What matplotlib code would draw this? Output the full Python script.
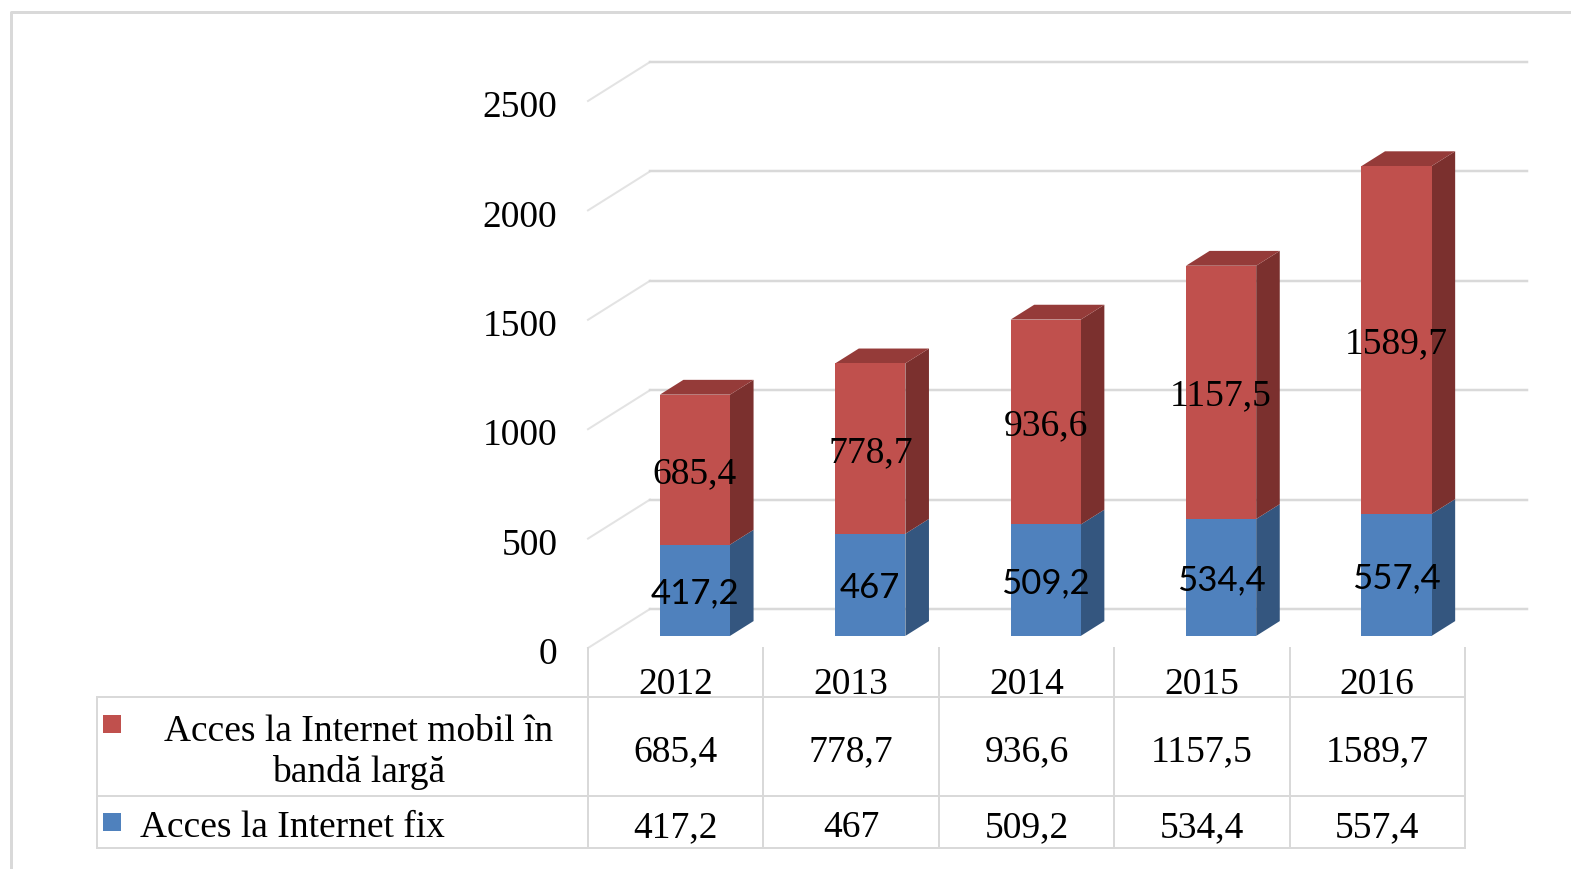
import matplotlib.pyplot as plt
from matplotlib.patches import Polygon
from matplotlib.lines import Line2D
from matplotlib.transforms import IdentityTransform, ScaledTranslation

years = ['2012', '2013', '2014', '2015', '2016']
fix_vals = [417.2, 467, 509.2, 534.4, 557.4]
mob_vals = [685.4, 778.7, 936.6, 1157.5, 1589.7]
fix_lbls = ['417,2', '467', '509,2', '534,4', '557,4']
mob_lbls = ['685,4', '778,7', '936,6', '1157,5', '1589,7']
mob_name = ['Acces la Internet mobil în', 'bandă largă']
fix_name = 'Acces la Internet fix'
y_ticks = [0, 500, 1000, 1500, 2000, 2500]

W, H = 1571, 869
SERIF = 'Liberation Serif'
FS = 27
GRID = '#d9d9d9'

# colours (front, side, top)
BLUE = ('#4f81bd', '#34567f', '#3f6896')
RED = ('#c0504d', '#7b302e', '#953b39')

fig = plt.figure(figsize=(W / 100, H / 100), dpi=100)
ax = fig.add_axes([588 / W, (H - 648) / H, 877 / W, 547 / H])
ax.set_xlim(-0.5, 4.5)
ax.set_ylim(0, 2500)
ax.patch.set_visible(False)
for s in ax.spines.values():
    s.set_visible(False)
ax.set_xticks([])
ax.set_yticks(y_ticks)
ax.set_yticklabels([str(v) for v in y_ticks], fontsize=FS, family=SERIF)
ax.tick_params(axis='y', length=0, pad=22)
# nudge tick labels a few px down
down = ScaledTranslation(0, -3 / 100, fig.dpi_scale_trans)
for t in ax.get_yticklabels():
    t.set_transform(t.get_transform() + down)

# depth of the 3d box, pixels
DX, DY = 62, 39
HW = 0.2          # half bar width (category units)
D0, D1 = 0.31, 0.69  # bar front / back depth
ID = IdentityTransform()


def pt(x, v, d=0.0):
    p = ax.transData.transform((x, v))
    return (p[0] + DX * d, p[1] + DY * d)


def img(x, y):
    # image pixel coords (y from top) -> display
    return (x, H - y)


def line(pts, color=GRID, lw=2.0, z=1):
    xs = [p[0] for p in pts]
    ys = [p[1] for p in pts]
    fig.add_artist(Line2D(xs, ys, color=color, lw=lw * 0.72, transform=ID, zorder=z))


def poly(pts, color, z=3):
    fig.add_artist(Polygon(pts, closed=True, facecolor=color, edgecolor='none',
                           transform=ID, zorder=z))


def text(x, y, s, size=FS, family=SERIF, ha='center'):
    # va=center sits a bit high for these fonts
    fig.text(x, y - 4, s, fontsize=size, family=family, ha=ha, va='center',
             transform=ID, zorder=10)


# outer frame
line([img(11, H), img(11, 12), img(W, 12)], lw=3)

# back wall gridlines
for v in y_ticks:
    line([pt(-0.5, v, 0), pt(-0.5, v, 1)], color='#e3e3e3', lw=2)
    line([pt(-0.5, v, 1), pt(4.5, v, 1)], lw=2.5)


def box(i, v0, v1, cols, top=False):
    xl, xr = i - HW, i + HW
    front, side, topc = cols
    poly([pt(xr, v0, D0), pt(xr, v0, D1), pt(xr, v1, D1), pt(xr, v1, D0)], side)
    if top:
        poly([pt(xl, v1, D0), pt(xr, v1, D0), pt(xr, v1, D1), pt(xl, v1, D1)], topc)
    poly([pt(xl, v0, D0), pt(xr, v0, D0), pt(xr, v1, D0), pt(xl, v1, D0)], front)


for i in range(len(years)):
    f, m = fix_vals[i], mob_vals[i]
    box(i, 0, f, BLUE)
    box(i, f, f + m, RED, top=True)
    cx = pt(i, 0, D0)[0]
    text(cx, pt(i, f / 2, D0)[1] + 1, fix_lbls[i], size=25, family='Lato')
    text(cx, pt(i, f + m / 2, D0)[1], mob_lbls[i])

# data table
xb = [pt(i - 0.5, 0)[0] for i in range(len(years) + 1)]
for x in xb:
    line([img(x, 648), img(x, 848)])
for y in (697, 796, 848):
    line([img(97, y), img(xb[-1], y)])
line([img(97, 697), img(97, 848)])

for i, yr in enumerate(years):
    cx = (xb[i] + xb[i + 1]) / 2
    text(cx, H - 681, yr)
    text(cx, H - 748, mob_lbls[i])
    text(cx, H - 824, fix_lbls[i])

# legend keys + row names
poly([img(103, 715), img(121, 715), img(121, 733), img(103, 733)], RED[0], z=5)
poly([img(103, 813), img(121, 813), img(121, 831), img(103, 831)], BLUE[0], z=5)
text(359, H - 728, mob_name[0])
text(359, H - 768, mob_name[1])
text(140, H - 824, fix_name, ha='left')

fig.savefig('out.png', dpi=100)
